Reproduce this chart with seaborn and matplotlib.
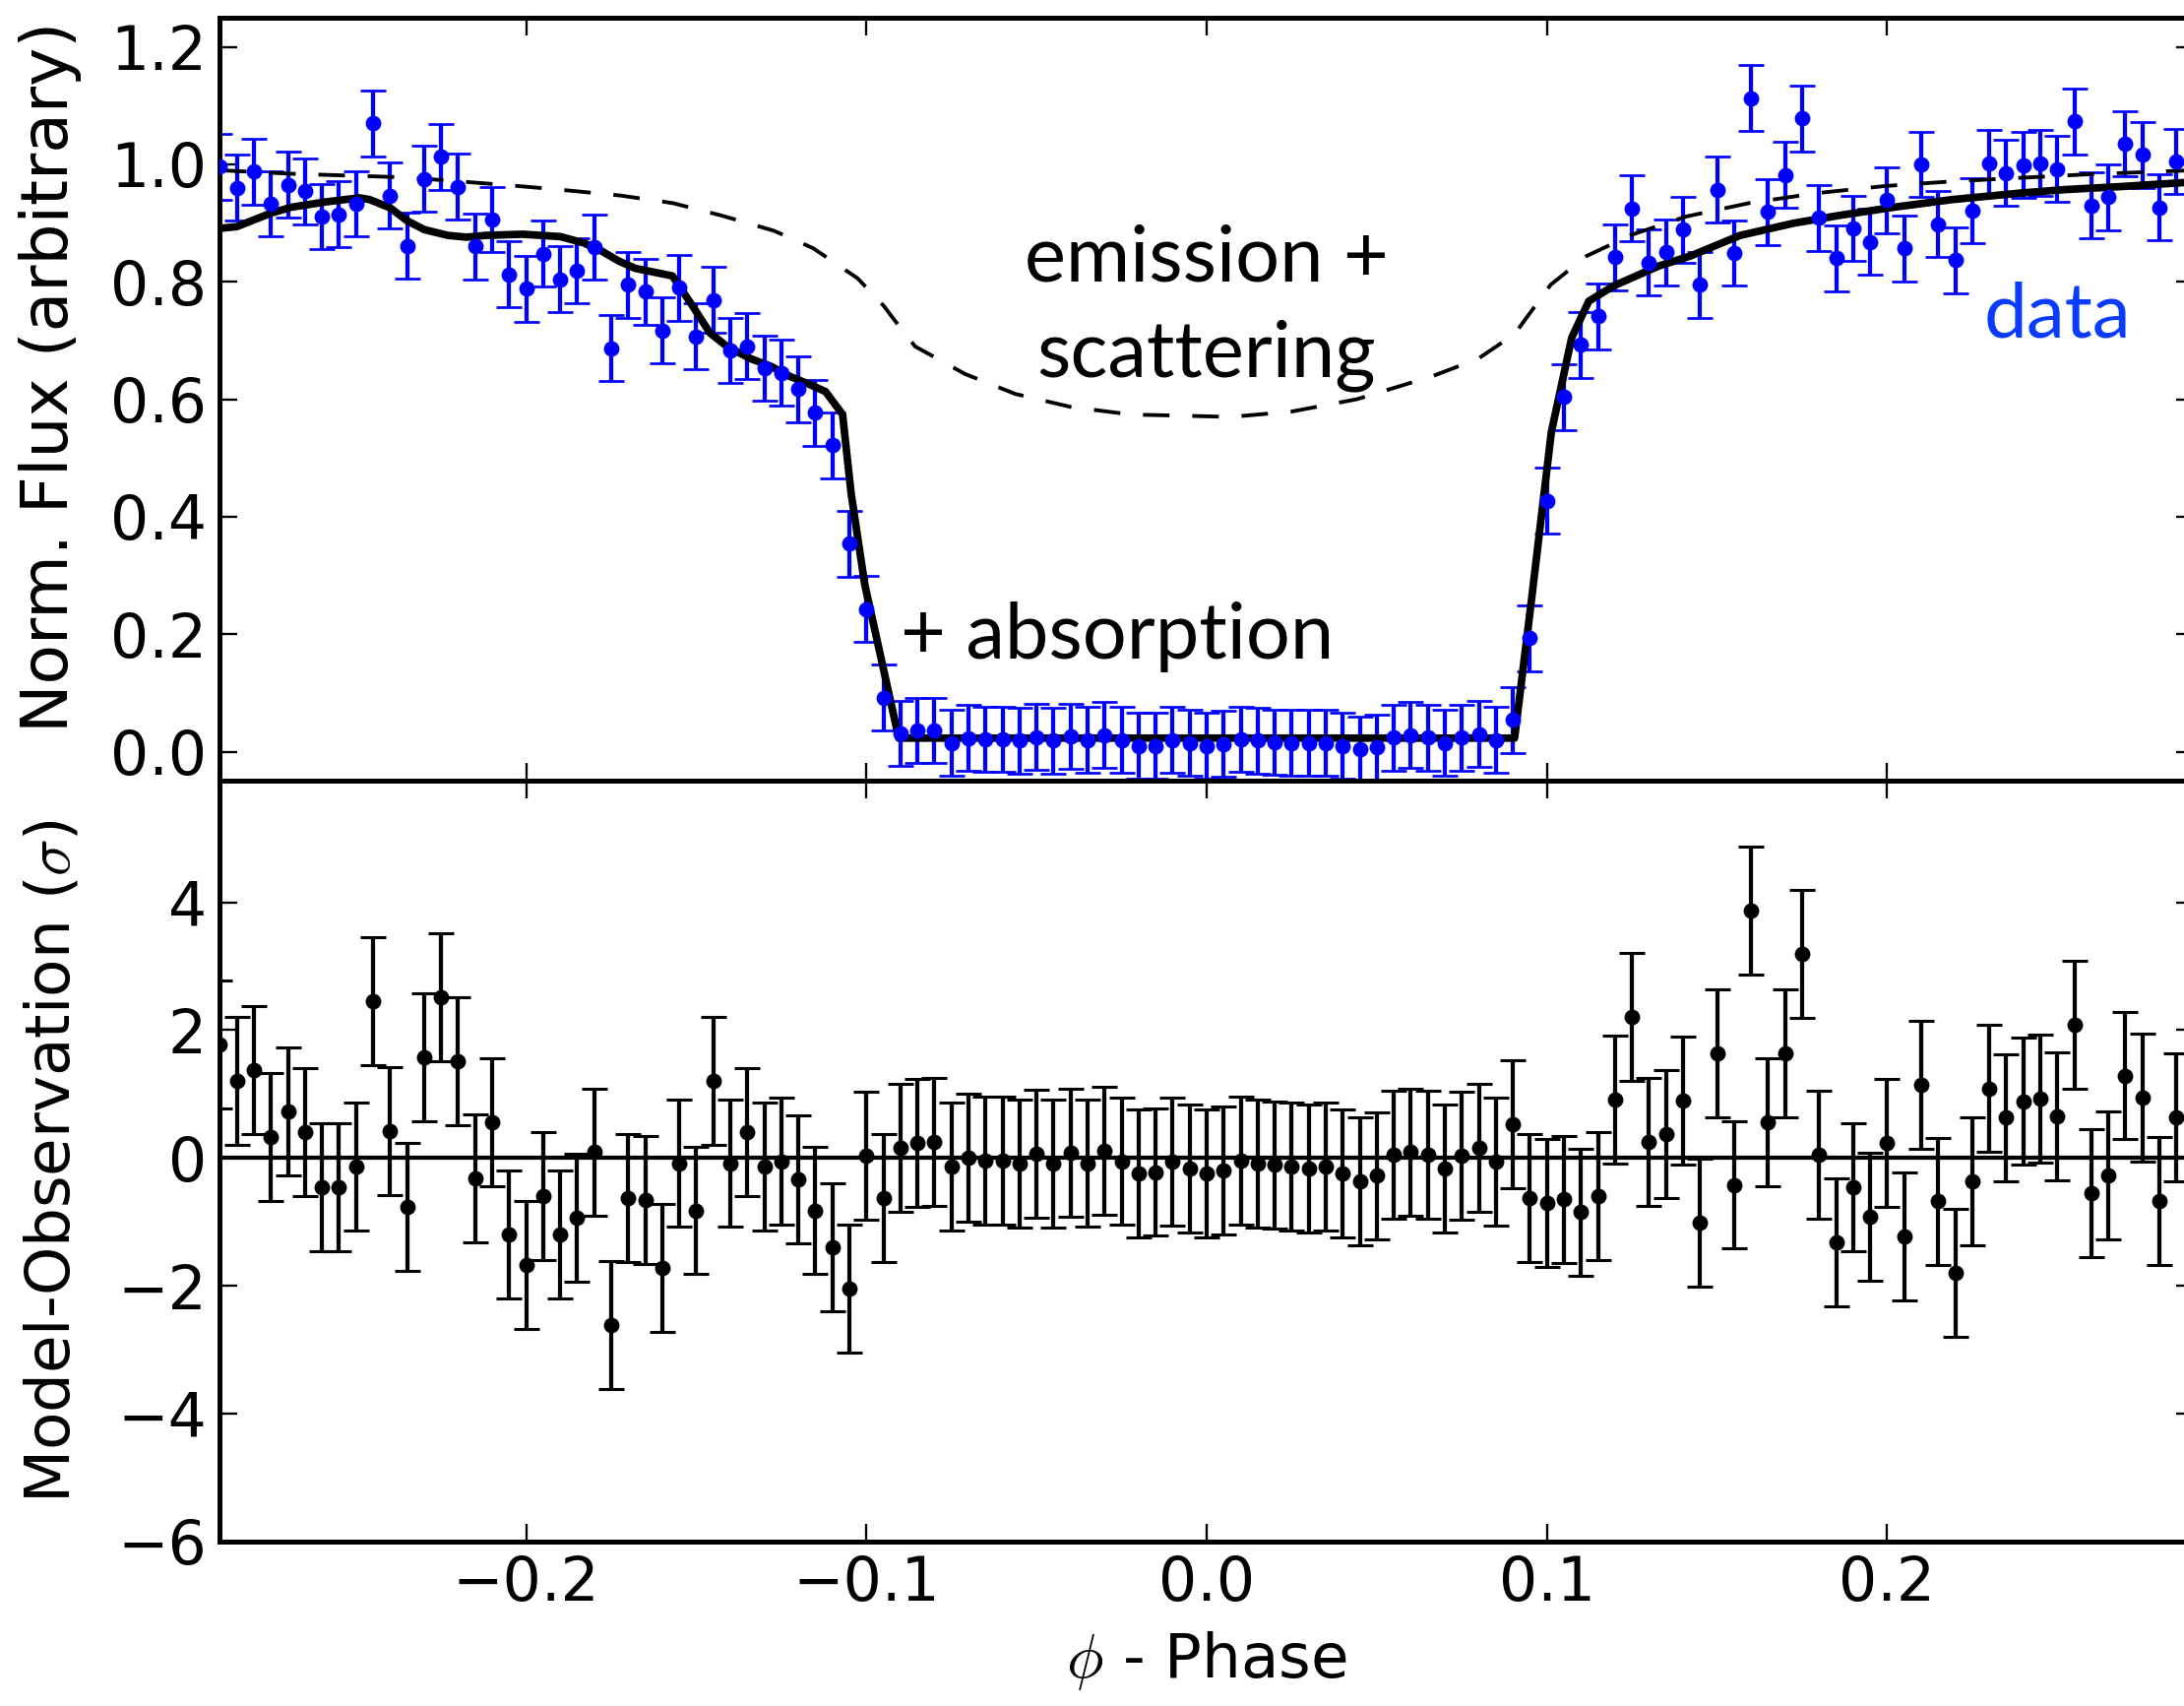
import matplotlib
matplotlib.use("Agg")
import matplotlib.pyplot as plt
import seaborn as sns

# ---- data --------------------------------------------------------------
phase = [
    -0.290, -0.285, -0.280, -0.275, -0.270, -0.265, -0.260, -0.255, -0.250, -0.245,
    -0.240, -0.235, -0.230, -0.225, -0.220, -0.215, -0.210, -0.205, -0.200, -0.195,
    -0.190, -0.185, -0.180, -0.175, -0.170, -0.165, -0.160, -0.155, -0.150, -0.145,
    -0.140, -0.135, -0.130, -0.125, -0.120, -0.115, -0.110, -0.105, -0.100, -0.095,
    -0.090, -0.085, -0.080, -0.075, -0.070, -0.065, -0.060, -0.055, -0.050, -0.045,
    -0.040, -0.035, -0.030, -0.025, -0.020, -0.015, -0.010, -0.005, 0.000, 0.005,
    0.010, 0.015, 0.020, 0.025, 0.030, 0.035, 0.040, 0.045, 0.050, 0.055,
    0.060, 0.065, 0.070, 0.075, 0.080, 0.085, 0.090, 0.095, 0.100, 0.105,
    0.110, 0.115, 0.120, 0.125, 0.130, 0.135, 0.140, 0.145, 0.150, 0.155,
    0.160, 0.165, 0.170, 0.175, 0.180, 0.185, 0.190, 0.195, 0.200, 0.205,
    0.210, 0.215, 0.220, 0.225, 0.230, 0.235, 0.240, 0.245, 0.250, 0.255,
    0.260, 0.265, 0.270, 0.275, 0.280, 0.285,
]

flux = [
    0.996, 0.960, 0.988, 0.933, 0.965, 0.954, 0.911, 0.915, 0.933, 1.070,
    0.947, 0.861, 0.975, 1.013, 0.962, 0.860, 0.906, 0.813, 0.788, 0.848,
    0.804, 0.819, 0.859, 0.687, 0.795, 0.783, 0.717, 0.790, 0.707, 0.769,
    0.683, 0.690, 0.653, 0.645, 0.617, 0.577, 0.522, 0.354, 0.243, 0.092,
    0.031, 0.036, 0.036, 0.015, 0.023, 0.021, 0.021, 0.019, 0.025, 0.019,
    0.026, 0.020, 0.028, 0.020, 0.010, 0.010, 0.020, 0.015, 0.010, 0.013,
    0.021, 0.019, 0.016, 0.015, 0.015, 0.015, 0.010, 0.004, 0.007, 0.024,
    0.028, 0.024, 0.015, 0.024, 0.030, 0.020, 0.054, 0.193, 0.427, 0.604,
    0.693, 0.741, 0.842, 0.925, 0.833, 0.850, 0.889, 0.795, 0.957, 0.849,
    1.113, 0.919, 0.982, 1.078, 0.909, 0.840, 0.891, 0.868, 0.939, 0.857,
    1.000, 0.898, 0.837, 0.921, 1.002, 0.985, 0.999, 1.002, 0.992, 1.073,
    0.930, 0.944, 1.035, 1.016, 0.927, 1.005,
]
flux_err = 0.056

resid = [
    1.78, 1.21, 1.38, 0.33, 0.73, 0.41, -0.46, -0.46, -0.14, 2.45,
    0.42, -0.76, 1.58, 2.52, 1.52, -0.32, 0.56, -1.20, -1.68, -0.60,
    -1.20, -0.93, 0.09, -2.61, -0.63, -0.66, -1.72, -0.08, -0.82, 1.21,
    -0.08, 0.40, -0.13, -0.05, -0.33, -0.82, -1.40, -2.05, 0.04, -0.63,
    0.16, 0.24, 0.25, -0.14, 0.00, -0.04, -0.04, -0.09, 0.07, -0.09,
    0.08, -0.08, 0.11, -0.05, -0.24, -0.22, -0.06, -0.16, -0.24, -0.19,
    -0.04, -0.09, -0.11, -0.13, -0.16, -0.13, -0.24, -0.36, -0.28, 0.05,
    0.09, 0.05, -0.17, 0.04, 0.16, -0.06, 0.53, -0.63, -0.71, -0.65,
    -0.85, -0.60, 0.91, 2.21, 0.25, 0.37, 0.90, -1.01, 1.64, -0.42,
    3.87, 0.56, 1.64, 3.20, 0.05, -1.32, -0.46, -0.92, 0.24, -1.23,
    1.15, -0.68, -1.80, -0.37, 1.09, 0.63, 0.89, 0.93, 0.65, 2.09,
    -0.55, -0.27, 1.29, 0.95, -0.67, 0.64,
]
resid_err = 1.0

# emission + scattering + absorption model (solid)
full_phase = [
    -0.290, -0.285, -0.275, -0.269, -0.259, -0.249, -0.246, -0.240, -0.235, -0.230,
    -0.223, -0.2175, -0.212, -0.201, -0.190, -0.183, -0.178, -0.173, -0.168, -0.157,
    -0.151, -0.146, -0.141, -0.134, -0.128, -0.1225, -0.117, -0.112, -0.107, -0.1045,
    -0.1005, -0.0905, 0.0905, 0.0955, 0.1013, 0.1073, 0.1123, 0.1196, 0.1329, 0.1422,
    0.1568, 0.1727, 0.1859, 0.2019, 0.2191, 0.239, 0.2522, 0.2682, 0.290,
]
full_model = [
    0.891, 0.894, 0.917, 0.927, 0.936, 0.943, 0.940, 0.926, 0.904, 0.889,
    0.879, 0.876, 0.879, 0.881, 0.877, 0.866, 0.853, 0.836, 0.823, 0.810,
    0.758, 0.713, 0.690, 0.669, 0.656, 0.639, 0.626, 0.613, 0.574, 0.440,
    0.285, 0.023, 0.023, 0.260, 0.544, 0.705, 0.767, 0.793, 0.827, 0.844,
    0.879, 0.900, 0.913, 0.927, 0.940, 0.951, 0.957, 0.962, 0.970,
]

# emission + scattering only (dashed)
emis_phase = [
    -0.290, -0.269, -0.253, -0.236, -0.2197, -0.2042, -0.1903, -0.1724, -0.1569, -0.1427,
    -0.1272, -0.1156, -0.1026, -0.0949, -0.091, -0.0857, -0.071, -0.0562, -0.040, -0.0223,
    0.0072, 0.0249, 0.0441, 0.0662, 0.0798, 0.0905, 0.1011, 0.1117, 0.1249, 0.1408,
    0.1594, 0.1793, 0.1992, 0.2191, 0.239, 0.2589, 0.2721, 0.290,
]
emis_model = [
    0.990, 0.984, 0.981, 0.978, 0.971, 0.964, 0.957, 0.947, 0.934, 0.913,
    0.887, 0.857, 0.806, 0.759, 0.729, 0.690, 0.643, 0.609, 0.587, 0.574,
    0.570, 0.579, 0.600, 0.639, 0.669, 0.711, 0.795, 0.844, 0.880, 0.911,
    0.934, 0.951, 0.963, 0.971, 0.977, 0.983, 0.986, 0.990,
]

# ---- style ---------------------------------------------------------------
sns.set_style("ticks")
plt.rcParams["font.family"] = ["DejaVu Sans"]
plt.rcParams["mathtext.fontset"] = "cm"
plt.rcParams["axes.linewidth"] = 1.3
plt.rcParams["axes.edgecolor"] = "black"
plt.rcParams["text.color"] = "black"
plt.rcParams["axes.labelcolor"] = "black"
plt.rcParams["xtick.color"] = "black"
plt.rcParams["ytick.color"] = "black"
plt.rcParams["lines.scale_dashes"] = False

DPI = 277.375
fig = plt.figure(figsize=(8.0, 6.248), dpi=DPI)
left, width = 0.1007, 0.9036
ax1 = fig.add_axes([left, 0.5422, width, 0.4475])
ax2 = fig.add_axes([left, 0.0965, width, 0.4457], sharex=ax1)

BLUE = "#0000ff"

# top panel: flux
ax1.errorbar(phase, flux, yerr=flux_err, fmt="none", ecolor=BLUE,
             elinewidth=1.1, capsize=3.3, capthick=0.7, zorder=2)
sns.lineplot(x=full_phase, y=full_model, ax=ax1, color="black", linewidth=2.0,
             sort=False, zorder=3)
sns.lineplot(x=emis_phase, y=emis_model, ax=ax1, color="black", linewidth=1.0,
             linestyle=(0, (7, 6)), sort=False, zorder=3)
sns.scatterplot(x=phase, y=flux, ax=ax1, color=BLUE, s=17, linewidth=0, zorder=4)

tfont = dict(family=["Lato", "DejaVu Sans"], fontsize=20.6)
ax1.text(0.0, 0.801, "emission +", ha="center", va="baseline", **tfont)
ax1.text(0.0, 0.638, "scattering", ha="center", va="baseline", **tfont)
ax1.text(-0.090, 0.159, "+ absorption", ha="left", va="baseline", **tfont)
ax1.text(0.250, 0.706, "data", ha="center", va="baseline", color="#0a3cff",
         family=["Lato", "DejaVu Sans"], fontsize=20.3)

ax1.set_ylim(-0.05, 1.25)
ax1.set_yticks([0.0, 0.2, 0.4, 0.6, 0.8, 1.0, 1.2])
ax1.set_ylabel("Norm. Flux (arbitrary)", fontsize=17.2)
ax1.tick_params(labelbottom=False)

# bottom panel: residuals
ax2.axhline(0, color="black", linewidth=1.1, zorder=1)
ax2.errorbar(phase, resid, yerr=resid_err, fmt="none", ecolor="black",
             elinewidth=1.1, capsize=3.3, capthick=0.8, zorder=2)
sns.scatterplot(x=phase, y=resid, ax=ax2, color="black", s=17, linewidth=0, zorder=4)
ax2.set_ylim(-6, 5.9)
ax2.set_yticks([-6, -4, -2, 0, 2, 4])
ax2.set_ylabel(r"Model-Observation ($\sigma$)", fontsize=16.3)
ax2.set_xlabel(r"$\phi$ - Phase", fontsize=16.3)

ax1.set_xlim(-0.29, 0.29)
ax2.set_xticks([-0.2, -0.1, 0.0, 0.1, 0.2])

for ax in (ax1, ax2):
    ax.tick_params(direction="in", length=4.7, width=0.6, labelsize=16,
                   top=True, right=True, pad=3.5)
    for sp in ax.spines.values():
        sp.set_visible(True)
        sp.set_linewidth(1.3)

ax1.yaxis.set_label_coords(-0.0698, 0.529)
ax2.yaxis.set_label_coords(-0.0698, 0.5)

fig.savefig("out.png", dpi=DPI)
